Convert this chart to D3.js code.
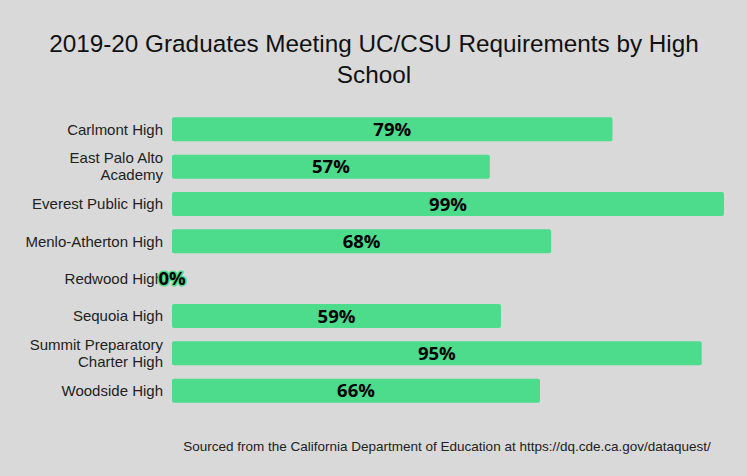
<!DOCTYPE html>
<html>
<head>
<meta charset="utf-8">
<script src="https://cdn.jsdelivr.net/npm/d3@7"></script>
<style>
  html, body { margin: 0; padding: 0; background: #d9d9d9; }
  svg { display: block; }
</style>
</head>
<body>
<svg id="chart" width="747" height="476"></svg>
<script>
const schools = [
  "Carlmont High",
  "East Palo Alto Academy",
  "Everest Public High",
  "Menlo-Atherton High",
  "Redwood High",
  "Sequoia High",
  "Summit Preparatory Charter High",
  "Woodside High"
];
const schoolLines = [
  ["Carlmont High"],
  ["East Palo Alto", "Academy"],
  ["Everest Public High"],
  ["Menlo-Atherton High"],
  ["Redwood High"],
  ["Sequoia High"],
  ["Summit Preparatory", "Charter High"],
  ["Woodside High"]
];
const percentMeeting = [79, 57, 99, 68, 0, 59, 95, 66];
const titleLines = ["2019-20 Graduates Meeting UC/CSU Requirements by High", "School"];
const sourceNote = "Sourced from the California Department of Education at https://dq.cde.ca.gov/dataquest/";

const W = 747, H = 476;
const svg = d3.select("#chart");
svg.append("rect").attr("width", W).attr("height", H).attr("fill", "#d9d9d9");

const data = schools.map((s, i) => ({ school: s, lines: schoolLines[i], value: percentMeeting[i] }));

const x = d3.scaleLinear().domain([0, d3.max(percentMeeting)]).range([172, 724]);
const y = d3.scaleBand().domain(schools).range([104, 416]).padding(0.357);

// Title
const title = svg.append("text")
  .attr("text-anchor", "middle")
  .attr("font-family", "'Liberation Sans', Arial, sans-serif")
  .attr("font-size", 24.3)
  .attr("fill", "#111");
title.selectAll("tspan").data(titleLines).join("tspan")
  .attr("x", 374)
  .attr("y", (d, i) => 52 + i * 31)
  .text(d => d);

// Bars
svg.append("g").selectAll("rect").data(data).join("rect")
  .attr("x", x(0))
  .attr("y", d => y(d.school))
  .attr("width", d => x(d.value) - x(0))
  .attr("height", y.bandwidth())
  .attr("rx", 2)
  .attr("fill", "#4cdc8c");

// Category axis labels
const yAxis = d3.axisLeft(y).tickSize(0).tickPadding(9);
const gy = svg.append("g").attr("transform", `translate(${x(0)},0)`).call(yAxis);
gy.select(".domain").remove();
gy.selectAll(".tick text").each(function(d, i) {
  const t = d3.select(this);
  const lines = data[i].lines;
  t.text(null)
    .attr("font-family", "'Liberation Sans', Arial, sans-serif")
    .attr("font-size", 15)
    .attr("fill", "#222")
    .attr("dy", null);
  const lh = 17;
  lines.forEach((ln, k) => {
    t.append("tspan")
      .attr("x", -9)
      .attr("dy", k === 0 ? ((0.35 - (lines.length - 1) * lh / 2 / 15)) + "em" : lh + "px")
      .text(ln);
  });
});

// Value labels
svg.append("g").selectAll("text").data(data).join("text")
  .attr("x", d => (x(0) + x(d.value)) / 2)
  .attr("y", d => y(d.school) + y.bandwidth() / 2)
  .attr("dy", "0.36em")
  .attr("text-anchor", "middle")
  .attr("font-family", "'Open Sans', 'Noto Sans', sans-serif")
  .attr("font-weight", "bold")
  .attr("font-size", 18.5)
  .attr("fill", "#000")
  .attr("stroke", "#4cdc8c")
  .attr("stroke-width", 3)
  .attr("stroke-linejoin", "round")
  .attr("paint-order", "stroke")
  .text(d => d.value + "%");

// Source note
svg.append("text")
  .attr("x", 447)
  .attr("y", 446)
  .attr("dy", "0.35em")
  .attr("text-anchor", "middle")
  .attr("font-family", "'Liberation Sans', Arial, sans-serif")
  .attr("font-size", 13.5)
  .attr("fill", "#222")
  .text(sourceNote);
</script>
</body>
</html>
